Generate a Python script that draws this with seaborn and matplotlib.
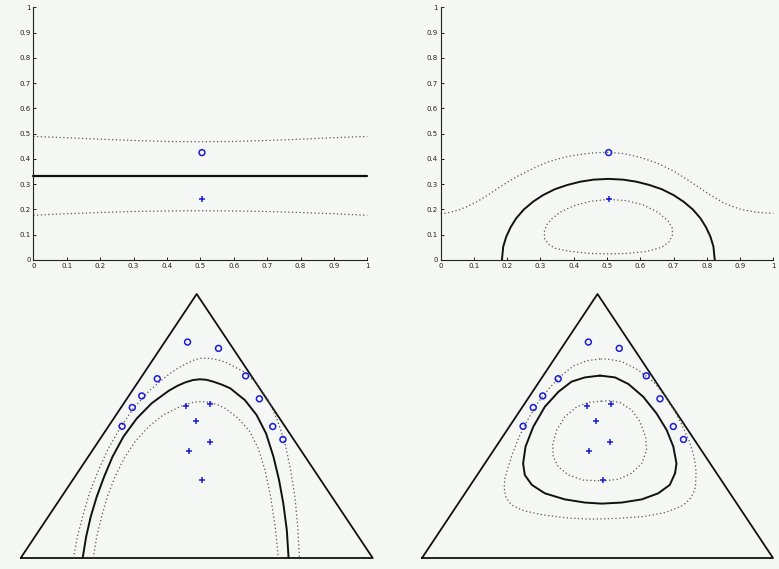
import matplotlib
matplotlib.use("Agg")
import matplotlib.pyplot as plt
import pandas as pd
import seaborn as sns

# ---------------- 1-simplex panels (top row) ----------------
pos_sample_x = [0.505]
pos_sample_y = [0.425]
neg_sample_x = [0.505]
neg_sample_y = [0.241]

tick_values = [0, 0.1, 0.2, 0.3, 0.4, 0.5, 0.6, 0.7, 0.8, 0.9, 1]
tick_labels = ["0", "0.1", "0.2", "0.3", "0.4", "0.5", "0.6", "0.7", "0.8", "0.9", "1"]

# Euclidean classifier: decision line and margin curves
lin_x = [0.0, 1.0]
lin_boundary_y = [0.333, 0.333]
lin_margin_x = [0.0, 0.1, 0.2, 0.3, 0.4, 0.5, 0.6, 0.7, 0.8, 0.9, 1.0]
lin_upper_y = [0.489, 0.484, 0.478, 0.473, 0.469, 0.468, 0.469, 0.473, 0.478, 0.484, 0.489]
lin_lower_y = [0.177, 0.183, 0.188, 0.192, 0.194, 0.195, 0.194, 0.192, 0.188, 0.183, 0.177]

# Geometry-aware classifier: boundary and margin curves
geo_outer_x = [0.0, 0.022, 0.052, 0.082, 0.112, 0.142, 0.172, 0.202, 0.232, 0.262, 0.293,
               0.323, 0.353, 0.383, 0.42, 0.46, 0.504, 0.55, 0.6, 0.65, 0.7, 0.75,
               0.8, 0.85, 0.9, 0.95, 0.975, 1.0]
geo_outer_y = [0.183, 0.187, 0.197, 0.213, 0.233, 0.257, 0.284, 0.309, 0.332, 0.352, 0.372,
               0.388, 0.400, 0.410, 0.418, 0.424, 0.426, 0.421, 0.406, 0.384, 0.352, 0.311,
               0.266, 0.226, 0.201, 0.189, 0.186, 0.185]
geo_bound_x = [0.184, 0.188, 0.197, 0.210, 0.227, 0.250, 0.278, 0.308, 0.343, 0.381, 0.420,
               0.460, 0.504, 0.548, 0.588, 0.627, 0.665, 0.700, 0.730, 0.758, 0.781, 0.798,
               0.811, 0.820, 0.824]
geo_bound_y = [0.0, 0.053, 0.092, 0.129, 0.165, 0.200, 0.231, 0.257, 0.280, 0.297, 0.310,
               0.318, 0.321, 0.318, 0.310, 0.297, 0.280, 0.257, 0.231, 0.200, 0.165, 0.129,
               0.092, 0.053, 0.0]
geo_inner_x = [0.504, 0.449, 0.399, 0.359, 0.333, 0.318, 0.311, 0.313, 0.324, 0.345, 0.389,
               0.449, 0.504, 0.559, 0.619, 0.664, 0.687, 0.697, 0.696, 0.684, 0.654, 0.609,
               0.559, 0.504]
geo_inner_y = [0.240, 0.232, 0.214, 0.189, 0.162, 0.137, 0.110, 0.083, 0.062, 0.046, 0.034,
               0.026, 0.024, 0.026, 0.034, 0.050, 0.072, 0.100, 0.126, 0.154, 0.188, 0.218,
               0.235, 0.240]

# ---------------- 2-simplex panels (bottom row) ----------------
# coordinates normalised to the triangle's bounding box
tri_x = [0.0, 1.0, 0.5, 0.0]
tri_y = [0.0, 0.0, 1.0, 0.0]

circle_x = [0.474, 0.562, 0.388, 0.639, 0.344, 0.678, 0.317, 0.288, 0.716, 0.745]
circle_y = [0.818, 0.794, 0.679, 0.690, 0.614, 0.603, 0.570, 0.499, 0.498, 0.449]
plus_x = [0.471, 0.539, 0.497, 0.537, 0.477, 0.515]
plus_y = [0.575, 0.585, 0.520, 0.440, 0.406, 0.294]

# Euclidean classifier on the triangle
tri_lin_outer_x = [0.150, 0.161, 0.176, 0.195, 0.221, 0.249, 0.282, 0.320, 0.367, 0.400, 0.424, 0.450,
                   0.472, 0.494, 0.514, 0.538, 0.562, 0.585, 0.633, 0.670, 0.704, 0.729, 0.751,
                   0.767, 0.779, 0.787, 0.792]
tri_lin_outer_y = [0.0, 0.081, 0.157, 0.245, 0.333, 0.415, 0.491, 0.567, 0.636, 0.673, 0.699, 0.722,
                   0.737, 0.751, 0.757, 0.756, 0.750, 0.740, 0.706, 0.662, 0.598, 0.523, 0.434,
                   0.333, 0.232, 0.119, 0.0]
tri_lin_bound_x = [0.176, 0.186, 0.199, 0.216, 0.237, 0.261, 0.292, 0.330, 0.372, 0.420, 0.445,
                   0.467, 0.489, 0.509, 0.528, 0.547, 0.571, 0.595, 0.637, 0.670, 0.697, 0.718,
                   0.734, 0.746, 0.756, 0.761]
tri_lin_bound_y = [0.0, 0.081, 0.157, 0.232, 0.308, 0.384, 0.460, 0.529, 0.586, 0.633, 0.652,
                   0.665, 0.674, 0.677, 0.675, 0.668, 0.657, 0.643, 0.598, 0.542, 0.472, 0.384,
                   0.295, 0.207, 0.106, 0.0]
tri_lin_inner_x = [0.206, 0.216, 0.230, 0.246, 0.268, 0.294, 0.325, 0.363, 0.405, 0.453, 0.472,
                   0.491, 0.505, 0.519, 0.538, 0.560, 0.581, 0.618, 0.651, 0.675, 0.694, 0.710,
                   0.723, 0.732]
tri_lin_inner_y = [0.0, 0.081, 0.157, 0.232, 0.308, 0.378, 0.441, 0.497, 0.542, 0.573, 0.583,
                   0.590, 0.592, 0.592, 0.589, 0.580, 0.567, 0.529, 0.479, 0.415, 0.333, 0.232,
                   0.119, 0.0]

# Geometry-aware classifier on the triangle (closed contours)
tri_geo_outer_x = [0.507, 0.469, 0.431, 0.393, 0.360, 0.329, 0.301, 0.277, 0.258, 0.243, 0.236, 0.234,
                   0.239, 0.247, 0.258, 0.274, 0.293, 0.346, 0.412, 0.479, 0.555, 0.631, 0.692,
                   0.735, 0.752, 0.764, 0.774, 0.779, 0.781, 0.775, 0.762, 0.743, 0.721, 0.692,
                   0.659, 0.616, 0.569, 0.526, 0.507]
tri_geo_outer_y = [0.754, 0.747, 0.727, 0.687, 0.639, 0.586, 0.523, 0.460, 0.396, 0.333, 0.300, 0.265,
                   0.232, 0.213, 0.199, 0.188, 0.178, 0.163, 0.152, 0.147, 0.150, 0.157, 0.172,
                   0.194, 0.208, 0.226, 0.247, 0.270, 0.327, 0.384, 0.441, 0.497, 0.554, 0.614,
                   0.668, 0.712, 0.744, 0.754, 0.754]
tri_geo_bound_x = [0.507, 0.464, 0.426, 0.389, 0.350, 0.317, 0.295, 0.288, 0.293, 0.313, 0.350,
                   0.407, 0.464, 0.512, 0.569, 0.626, 0.673, 0.706, 0.721, 0.725, 0.716, 0.697,
                   0.668, 0.630, 0.588, 0.550, 0.507]
tri_geo_bound_y = [0.691, 0.684, 0.668, 0.630, 0.573, 0.497, 0.422, 0.358, 0.314, 0.277, 0.245,
                   0.222, 0.210, 0.206, 0.210, 0.222, 0.245, 0.277, 0.321, 0.358, 0.422, 0.485,
                   0.548, 0.611, 0.659, 0.684, 0.691]
tri_geo_inner_x = [0.512, 0.474, 0.441, 0.407, 0.384, 0.372, 0.374, 0.388, 0.417, 0.460, 0.516,
                   0.559, 0.597, 0.626, 0.640, 0.637, 0.621, 0.597, 0.564, 0.536, 0.512]
tri_geo_inner_y = [0.594, 0.589, 0.573, 0.535, 0.485, 0.428, 0.384, 0.346, 0.314, 0.295, 0.292,
                   0.298, 0.321, 0.358, 0.409, 0.460, 0.516, 0.561, 0.589, 0.596, 0.594]

# ---------------- styling ----------------
sns.set_theme(style="ticks")
plt.rcParams["font.family"] = ["DejaVu Sans"]
BG = "#f4f7f3"
INK = "#111111"
DOT = "#555555"
BLUE = "#1c1cd6"
SOLID_KW = dict(color=INK, linewidth=1.4, sort=False, estimator=None, legend=False)
DOT_KW = dict(color=DOT, linewidth=0.9, linestyle=(0, (1, 2)), sort=False, estimator=None, legend=False)

fig = plt.figure(figsize=(7.79, 5.69), dpi=100, facecolor=BG)
W, H = 779.0, 569.0


def axes_px(x0, y_top, x1, y_bot):
    return fig.add_axes([x0 / W, 1 - y_bot / H, (x1 - x0) / W, (y_bot - y_top) / H])


def curve(ax, xs, ys, kw):
    df = pd.DataFrame({"x": xs, "y": ys})
    sns.lineplot(data=df, x="x", y="y", ax=ax, **kw)


def samples(ax, cx, cy, px, py, ms):
    sns.scatterplot(x=cx, y=cy, ax=ax, marker="o", s=ms, facecolors="none",
                    edgecolor=BLUE, linewidth=1.1, legend=False, clip_on=False, zorder=5)
    sns.scatterplot(x=px, y=py, ax=ax, marker="+", s=ms, color=BLUE,
                    linewidth=1.1, legend=False, clip_on=False, zorder=5)


def style_top(ax):
    ax.set_facecolor(BG)
    ax.set_xlim(0, 1)
    ax.set_ylim(0, 1)
    ax.set_xticks(tick_values)
    ax.set_xticklabels(tick_labels)
    ax.set_yticks(tick_values)
    ax.set_yticklabels(tick_labels)
    ax.tick_params(direction="in", length=2.5, width=0.7, labelsize=5, pad=2, colors="#222222")
    for side in ("top", "right"):
        ax.spines[side].set_visible(False)
    for side in ("left", "bottom"):
        ax.spines[side].set_linewidth(0.8)
        ax.spines[side].set_color("#222222")
    ax.set_xlabel("")
    ax.set_ylabel("")


def style_tri(ax):
    ax.set_facecolor(BG)
    ax.set_xlim(0, 1)
    ax.set_ylim(0, 1)
    ax.set_axis_off()
    ax.set_xlabel("")
    ax.set_ylabel("")


# top left: Euclidean classifier on the segment
ax1 = axes_px(33.3, 7.3, 367.3, 260.0)
curve(ax1, lin_margin_x, lin_upper_y, DOT_KW)
curve(ax1, lin_margin_x, lin_lower_y, DOT_KW)
curve(ax1, lin_x, lin_boundary_y, dict(SOLID_KW, linewidth=1.6))
samples(ax1, pos_sample_x, pos_sample_y, neg_sample_x, neg_sample_y, 18)
style_top(ax1)

# top right: geometry-aware classifier on the segment
ax2 = axes_px(440.7, 7.3, 773.3, 260.0)
curve(ax2, geo_outer_x, geo_outer_y, DOT_KW)
curve(ax2, geo_inner_x, geo_inner_y, DOT_KW)
curve(ax2, geo_bound_x, geo_bound_y, SOLID_KW)
samples(ax2, pos_sample_x, pos_sample_y, neg_sample_x, neg_sample_y, 18)
style_top(ax2)

# bottom left: Euclidean classifier on the triangle
ax3 = axes_px(20.7, 294.0, 372.7, 558.0)
curve(ax3, tri_x, tri_y, dict(SOLID_KW, linewidth=1.3))
curve(ax3, tri_lin_outer_x, tri_lin_outer_y, DOT_KW)
curve(ax3, tri_lin_inner_x, tri_lin_inner_y, DOT_KW)
curve(ax3, tri_lin_bound_x, tri_lin_bound_y, SOLID_KW)
samples(ax3, circle_x, circle_y, plus_x, plus_y, 18)
style_tri(ax3)

# bottom right: geometry-aware classifier on the triangle
ax4 = axes_px(422.0, 294.0, 773.0, 558.0)
curve(ax4, tri_x, tri_y, dict(SOLID_KW, linewidth=1.3))
curve(ax4, tri_geo_outer_x, tri_geo_outer_y, DOT_KW)
curve(ax4, tri_geo_inner_x, tri_geo_inner_y, DOT_KW)
curve(ax4, tri_geo_bound_x, tri_geo_bound_y, SOLID_KW)
samples(ax4, circle_x, circle_y, plus_x, plus_y, 18)
style_tri(ax4)

for ax in (ax1, ax2, ax3, ax4):
    for line in ax.get_lines():
        line.set_clip_on(False)
        line.set_solid_joinstyle("round")

fig.savefig("out.png", dpi=100, facecolor=BG)
